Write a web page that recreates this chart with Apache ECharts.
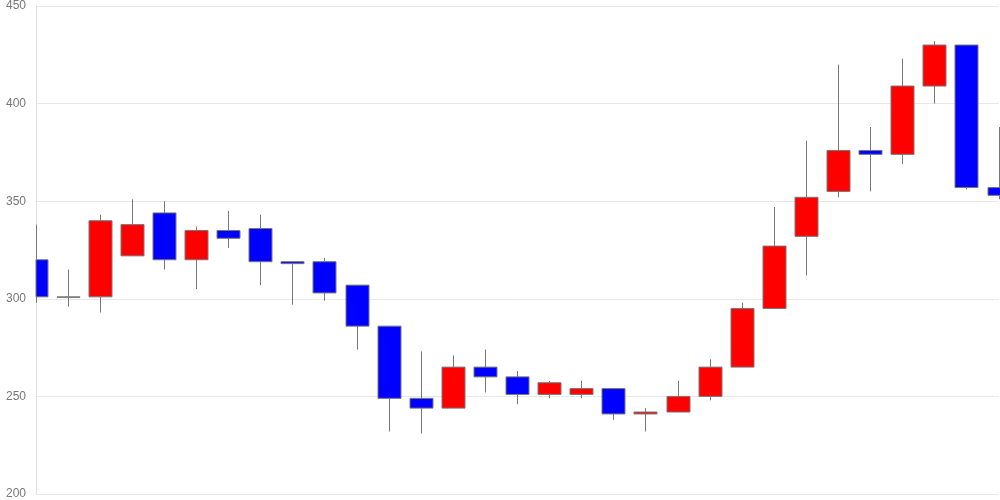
<!DOCTYPE html>
<html>
<head>
<meta charset="utf-8">
<script src="https://cdn.jsdelivr.net/npm/echarts@6/dist/echarts.min.js"></script>
<style>html,body{margin:0;padding:0;background:#fff}#c{width:1000px;height:500px}</style>
</head>
<body>
<div id="c"></div>
<script>
const categories = ['1','2','3','4','5','6','7','8','9','10','11','12','13','14','15','16','17','18','19','20','21','22','23','24','25','26','27','28','29','30','31'];
const opens  = [320,301,301,322,344,320,335,336,319,319,307,286,249,244,265,260,251,251,254,241,242,250,265,295,332,355,376,374,409,430,357];
const closes = [301,301,340,338,320,335,331,319,318,303,286,249,244,265,260,251,257,254,241,242,250,265,295,327,352,376,374,409,430,357,353];
const lows   = [298,296,293,322,315,305,326,307,297,299,274,232,231,244,252,246,249,249,238,232,242,248,265,295,312,352,355,369,400,356,351];
const highs  = [338,315,343,351,350,337,345,343,319,321,307,286,273,271,274,263,258,258,254,244,258,269,298,347,381,420,388,423,432,430,388];
const yTicks = [200,250,300,350,400,450];

const UP = '#ff0000', DOWN = '#0000ff', BORDER = '#777';
const BODY_W = 23;

const data = categories.map((c,i)=>[i,opens[i],closes[i],lows[i],highs[i]]);
const chart = echarts.init(document.getElementById('c'));

function renderItem(params, api){
  const idx = api.value(0);
  const o = api.value(1), c = api.value(2), l = api.value(3), h = api.value(4);
  const pO = api.coord([idx,o]), pC = api.coord([idx,c]);
  const pL = api.coord([idx,l]), pH = api.coord([idx,h]);
  const x = Math.floor(pO[0]) + 0.5;
  const top = Math.min(pO[1],pC[1]), bot = Math.max(pO[1],pC[1]);
  const cs = params.coordSys;
  const fill = c > o ? UP : (c < o ? DOWN : BORDER);
  const children = [];
  children.push({type:'line',shape:{x1:x,y1:pH[1],x2:x,y2:top},style:{stroke:BORDER,lineWidth:1}});
  children.push({type:'line',shape:{x1:x,y1:bot,x2:x,y2:pL[1]},style:{stroke:BORDER,lineWidth:1}});
  const rect = echarts.graphic.clipRectByRect(
    {x:x-BODY_W/2,y:top,width:BODY_W,height:Math.max(bot-top,0.5)},
    {x:cs.x,y:cs.y-2,width:cs.width+4,height:cs.height+4});
  if(rect){
    children.push({type:'rect',shape:rect,style:{fill:fill,stroke:BORDER,lineWidth:1}});
  }
  return {type:'group',children:children};
}

chart.setOption({
  animation:false,
  grid:{left:36,right:1,top:6,bottom:6,containLabel:false},
  xAxis:{type:'category',data:categories,boundaryGap:false,
    axisLine:{show:false},axisTick:{show:false},axisLabel:{show:false},splitLine:{show:false}},
  yAxis:{type:'value',min:yTicks[0],max:yTicks[yTicks.length-1],interval:50,
    axisLine:{show:true,lineStyle:{color:'#e0e0e0'}},axisTick:{show:false},
    axisLabel:{color:'#777',fontSize:12,margin:10,fontFamily:'Arial, Liberation Sans, sans-serif'},
    splitLine:{lineStyle:{color:'#e8e8e8'}}},
  series:[{type:'custom',renderItem:renderItem,data:data,
    encode:{x:0,y:[1,2,3,4]}}]
});
</script>
</body>
</html>
